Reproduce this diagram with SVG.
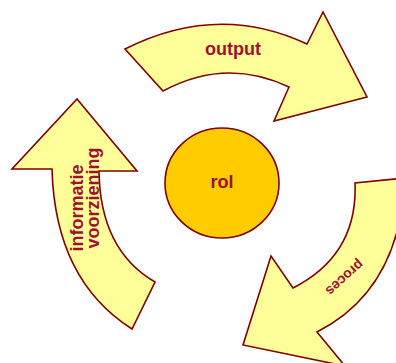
<svg xmlns="http://www.w3.org/2000/svg" width="396" height="363" viewBox="0 0 396 363">
  <style>
    .arrow { fill: #ffff99; stroke: #800000; stroke-width: 1.6; stroke-linejoin: miter; }
    .hub { fill: #ffcc00; stroke: #800000; stroke-width: 1.6; }
    .lbl { font-family: "Liberation Sans", Arial, sans-serif; font-weight: bold; font-size: 18px; fill: #a0102e; text-anchor: middle; }
    .lbl-thin { font-family: "Liberation Sans", Arial, sans-serif; font-size: 14px; fill: #a0102e; text-anchor: middle; }
  </style>
  <rect width="396" height="363" fill="#ffffff"/>

  <g id="connectors">
    <!-- top curved arrow -->
    <g id="output">
      <path class="arrow" d="M125,49 Q218,2 307,44 L323,12 L367,97 L274,121 L289,87 Q226,57 163,91 Z"/>
      <text class="lbl" x="233" y="55">output</text>
    </g>

    <!-- right curved arrow pointing down-left -->
    <g id="proces">
      <path class="arrow" d="M355,183 Q358,255 293,288 L271,256 L243,345 L345,366 L317,332 Q400,290 405,178 Z"/>
      <text class="lbl-thin" font-weight="bold" transform="translate(345,278) rotate(138)" y="5">proces</text>
    </g>

    <!-- left curved arrow pointing up -->
    <g id="informatievoorziening">
      <path class="arrow" d="M77,99 L137,171 L99,171 Q100,250 155,282 L132,329 Q55,280 52,169 L12,169 Z"/>
      <text class="lbl" transform="translate(83,208) rotate(-90)">informatie</text>
      <text class="lbl" transform="translate(99,198) rotate(-90)">voorziening</text>
    </g>
  </g>

  <g id="rol">
    <ellipse class="hub" cx="222" cy="183" rx="57" ry="55"/>
    <text class="lbl" x="222" y="188" font-size="19">rol</text>
  </g>
</svg>
